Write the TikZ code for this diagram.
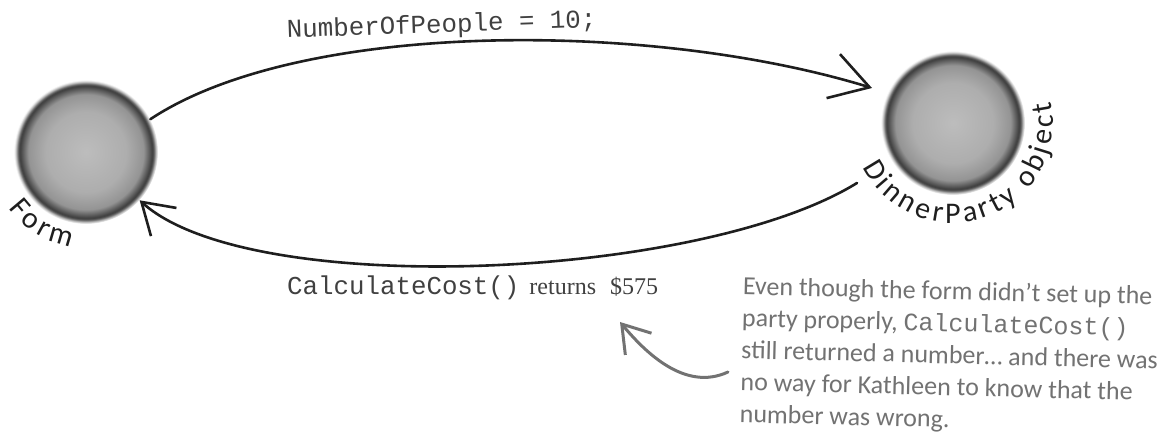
\documentclass[tikz,border=0pt]{standalone}
\usepackage{fontspec}
\setmainfont{Liberation Serif}
\setmonofont{Liberation Mono}
\newfontfamily\handfont{Carlito}
\usetikzlibrary{arrows.meta,decorations.text}

\pgfdeclareradialshading{orbshade}{\pgfpoint{0bp}{0bp}}{%
  color(0bp)=(black!26); color(14bp)=(black!32); color(20bp)=(black!42);
  color(23bp)=(black!76); color(23.6bp)=(black!62); color(24.3bp)=(black!25);
  color(25bp)=(white); color(50bp)=(white)}

\definecolor{ink}{HTML}{1E1E1E}
\definecolor{pencil}{HTML}{727272}
\newcommand\arcfont{\handfont\fontsize{30}{30}\selectfont}

\tikzset{
  orb/.style={circle, minimum size=144pt, inner sep=0pt, shade, shading=orbshade},
  wire/.style={ink, line width=2.6pt, line cap=round},
  pencilline/.style={pencil, line width=3pt, line cap=round},
  arclabel/.style={decorate, decoration={text effects along path, text={#1}, text align=left,
    text effects/.cd, text along path,
    characters={anchor=base, inner sep=0pt, text=ink, font=\arcfont},
    character widths={inner xsep=1.8pt, inner ysep=0pt, font=\arcfont}}},
}

\begin{document}
\begin{tikzpicture}[x=1pt,y=1pt]
\useasboundingbox (0,0) rectangle (1176,436);

\node[orb] (form) at (86,284) {};
\node[orb] (party) at (953,313) {};

% 玉のラベル
\path[arclabel={Form}]
  ([shift={(215:96)}]form.center) arc[start angle=215, end angle=300, radius=96pt];
\path[arclabel={DinnerParty object}]
  ([shift={(205:100)}]party.center) arc[start angle=205, end angle=420, radius=100pt];

% 上の矢印
\coordinate (partyin) at (872,348);
\draw[wire, -{Straight Barb[length=38pt, width=46pt]}]
  (form.27) .. controls (300,416) and (650,416) .. (partyin);
\node[anchor=base west, inner sep=0pt, rotate=2, text=ink!85] (setlabel) at (287,398)
  {\ttfamily\fontsize{25.8}{26}\selectfont NumberOfPeople = 10;};

% 下の矢印
\coordinate (partyout) at (857,253);
\draw[wire, -{Straight Barb[length=30pt, width=38pt]}]
  (partyout) .. controls (700,156) and (250,136) .. (form.318);
\node[anchor=base west, inner sep=0pt, text=ink!85] (retlabel) at (287,141)
  {\fontsize{24}{24}\selectfont{\ttfamily\fontsize{25.8}{26}\selectfont CalculateCost()}\hspace{10pt}returns\hspace{14pt}\$575};

% メモ
\node[anchor=north west, inner sep=0pt, align=left, text=pencil, rotate=-1.4,
  font=\handfont\fontsize{26}{32}\selectfont] (remark) at (743,160)
  {Even though the form didn’t set up the\\
   party properly, {\ttfamily\fontsize{25}{32}\selectfont CalculateCost()}\\
   still returned a number… and there was\\
   no way for Kathleen to know that the\\
   number was wrong.};
\coordinate (remarkfrom) at (728,64);
\coordinate (costpoint) at (620,114);
\draw[pencilline, -{Straight Barb[length=26pt, width=34pt]}]
  (remarkfrom) .. controls (685,44) and (645,84) .. (costpoint);

\end{tikzpicture}
\end{document}
